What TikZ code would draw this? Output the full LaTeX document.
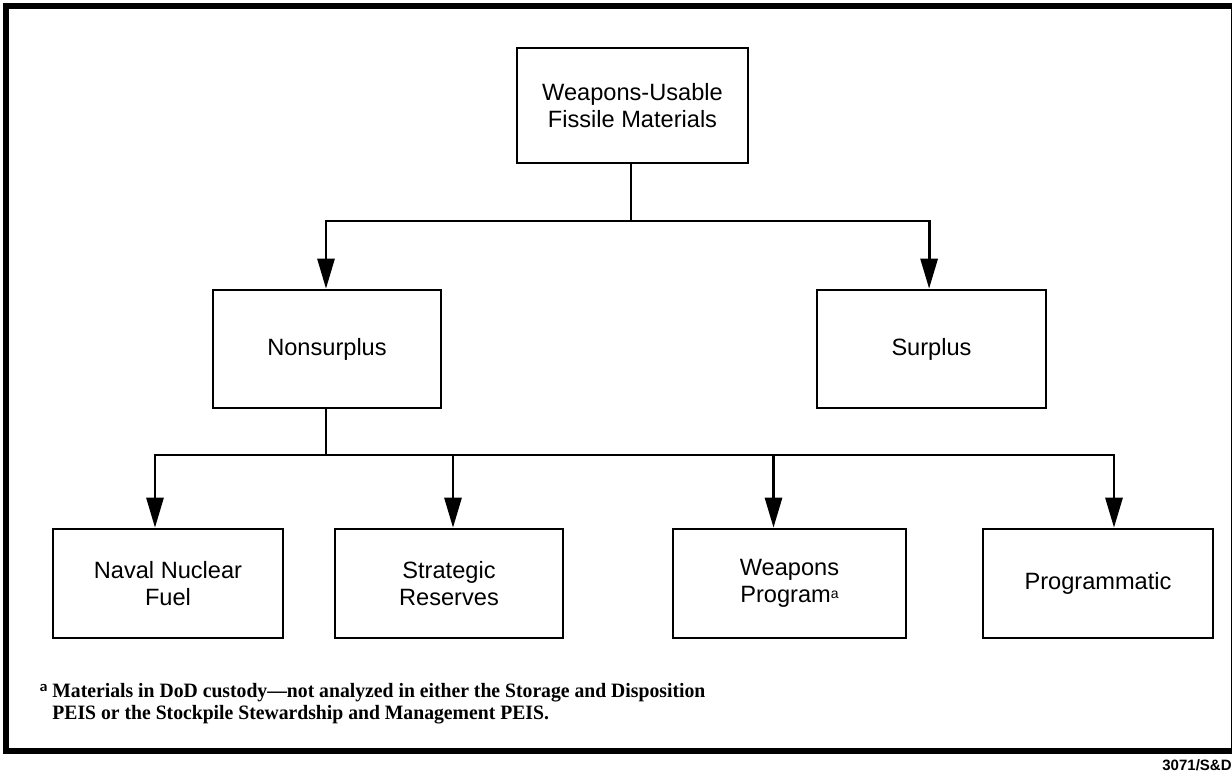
\documentclass[tikz,border=0pt]{standalone}
\usepackage{fontspec}
\setmainfont{Liberation Sans}
\newfontfamily\notefont[Ligatures=TeX,FakeStretch=0.965]{Liberation Serif}
\usetikzlibrary{arrows.meta}

\begin{document}
\begin{tikzpicture}[x=0.5pt,y=-0.5pt,
  box/.style={draw,line width=1.3pt,inner sep=0pt,align=center,
    font=\fontsize{11.8}{13.5}\selectfont},
  link/.style={line width=1.4pt},
  arr/.style={link,-{Triangle[length=15pt,width=8.5pt]}},
  note/.style={font=\notefont\bfseries\fontsize{10.2}{11}\selectfont,align=left,inner sep=0pt}]
\useasboundingbox (0,0) rectangle (1232,771);

% outer frame
\draw[line width=3pt] (6,6) rectangle (1234,751);

% boxes
\node[box,minimum width=115.5pt,minimum height=57.5pt] (top) at (632.5,105.5) {Weapons-Usable\\Fissile Materials};
\node[box,minimum width=114pt,minimum height=59pt] (nons) at (327,349) {Nonsurplus};
\node[box,minimum width=114.5pt,minimum height=59pt] (surp) at (931.5,349) {Surplus};
\node[box,minimum width=115pt,minimum height=54.5pt] (naval) at (168,583.5) {Naval Nuclear\\Fuel};
\node[box,minimum width=114pt,minimum height=54.5pt] (strat) at (449,583.5) {Strategic\\Reserves};
\node[box,minimum width=116.5pt,minimum height=54.5pt] (weap) at (789.5,583.5) {Weapons\\Program\raisebox{0.3ex}{\fontsize{7}{8}\selectfont a}};
\node[box,minimum width=115pt,minimum height=54.5pt] (prog) at (1098,583.5) {Programmatic};

% junctions
\coordinate (j1) at (631,221);
\coordinate (j2) at (326,455);

% connectors, first level
\draw[link] (top.south -| j1) -- (j1);
\draw[arr] (j1) -| ([xshift=-0.5pt]nons.north);
\draw[arr] (j1) -| ([xshift=-1.2pt]surp.north);

% connectors, second level
\draw[link] (nons.south -| j2) -- (j2);
\draw[arr] (j2) -| ([xshift=-6.5pt]naval.north);
\draw[arr] (j2) -| ([xshift=8pt]prog.north);
\draw[arr] ([xshift=2pt]strat.north |- j2) -- ([xshift=2pt]strat.north);
\draw[arr] ([xshift=-8pt]weap.north |- j2) -- ([xshift=-8pt]weap.north);

% footnote (base anchor sits on the last line)
\node[note,anchor=base west] (fn) at (52,719)
  {\llap{\raisebox{0.55ex}{\sffamily\bfseries\fontsize{7.5}{7.5}\selectfont a}\hspace{2.5pt}}Materials in DoD custody---not analyzed in either the Storage and Disposition\\
   PEIS or the Stockpile Stewardship and Management PEIS.};

% drawing number
\node[anchor=north east,inner sep=0pt,font=\bfseries\fontsize{7.5}{8}\selectfont] (num) at (1232,759) {3071/S\&D};
\end{tikzpicture}
\end{document}
